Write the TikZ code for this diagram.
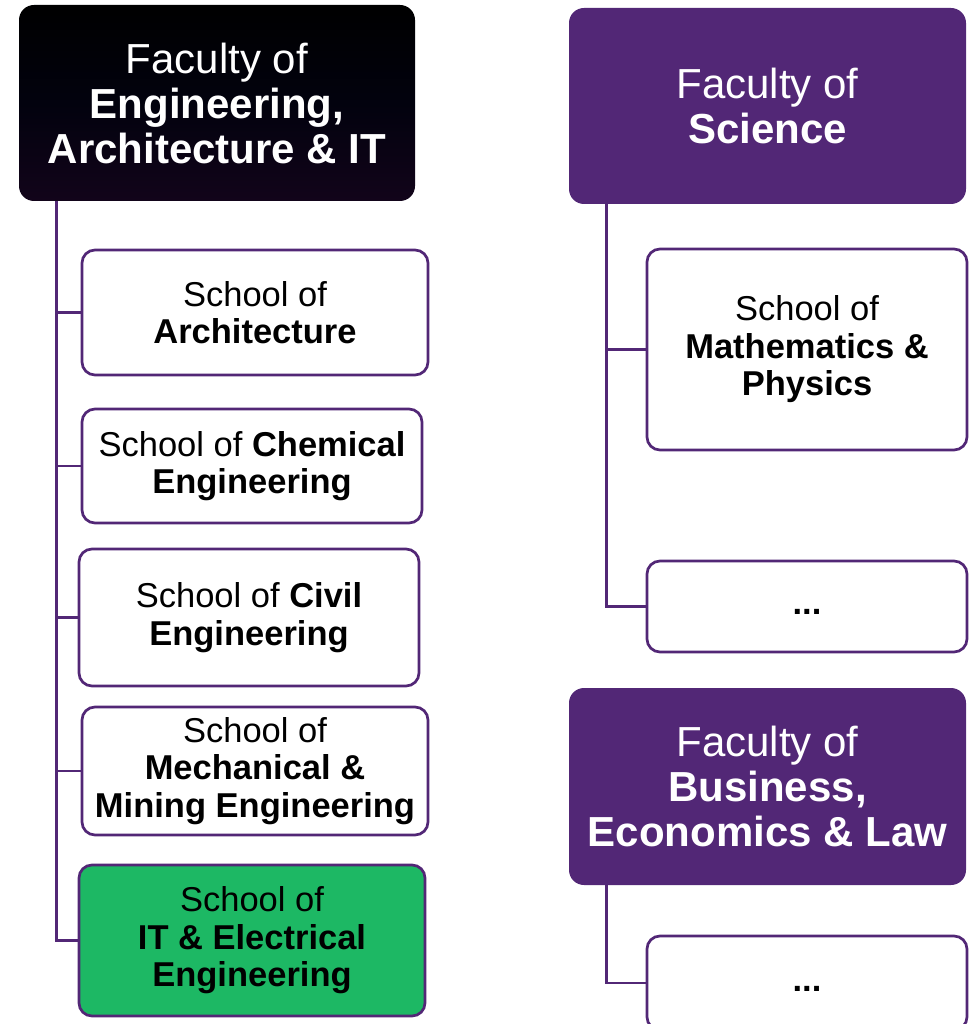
\documentclass[tikz,border=0pt]{standalone}
\usepackage{fontspec}
\setmainfont{Liberation Sans}
\definecolor{uqpurple}{RGB}{82,39,118}
\definecolor{uqgreen}{RGB}{29,184,100}
\definecolor{darktop}{RGB}{0,0,0}
\definecolor{darkbot}{RGB}{18,4,26}
\tikzset{
  faculty/.style={rectangle, rounded corners=15pt, inner sep=0pt, text=white, align=center,
    font=\fontsize{42}{45}\selectfont},
  school/.style={rectangle, rounded corners=13pt, draw=uqpurple, line width=2.7pt, fill=white,
    inner sep=0pt, align=center, font=\fontsize{34.5}{37.5}\selectfont},
  conn/.style={draw=uqpurple, line width=2.7pt}
}
\begin{document}
\begin{tikzpicture}[x=1pt,y=-1pt]
\useasboundingbox (0,0) rectangle (969,1024);
% Faculty boxes
\node[faculty, top color=darktop, bottom color=darkbot, middle color={rgb,255:red,2;green,2;blue,14},
  minimum width=396pt, minimum height=196pt] (fe) at (217,103)
  {Faculty of\\\textbf{Engineering,}\\\textbf{Architecture \& IT}};
\node[faculty, fill=uqpurple, minimum width=397pt, minimum height=196pt] (sci) at (767.5,106)
  {Faculty of\\\textbf{Science}};
\node[faculty, fill=uqpurple, minimum width=397pt, minimum height=197pt] (bus) at (767.5,786.5)
  {Faculty of\\\textbf{Business,}\\\textbf{Economics \& Law}};
% Schools (left)
\node[school, minimum width=346pt, minimum height=125pt] (s1) at (255,312.5)
  {School of\\\textbf{Architecture}};
\node[school, minimum width=340pt, minimum height=114pt] (s2) at (252,466)
  {School of \textbf{Chemical}\\\textbf{Engineering}};
\node[school, minimum width=340pt, minimum height=137pt] (s3) at (249,617.5)
  {School of \textbf{Civil}\\\textbf{Engineering}};
\node[school, minimum width=346pt, minimum height=128pt] (s4) at (255,771)
  {School of\\\textbf{Mechanical \&}\\\textbf{Mining Engineering}};
\node[school, fill=uqgreen, minimum width=346pt, minimum height=151pt] (s5) at (252,940.5)
  {School of\\\textbf{IT \& Electrical}\\\textbf{Engineering}};
% Schools (right)
\node[school, minimum width=320pt, minimum height=201pt] (m1) at (807,349.5)
  {School of\\\textbf{Mathematics \&}\\\textbf{Physics}};
\node[school, minimum width=320pt, minimum height=91pt] (m2) at (807,606.5)
  {\raisebox{-8pt}[0pt][0pt]{\textbf{...}}};
\node[school, minimum width=320pt, minimum height=94pt] (b1) at (807,983)
  {\raisebox{-8pt}[0pt][0pt]{\textbf{...}}};
% Connectors
\foreach \s in {s1,s2,s3,s4,s5}
  \draw[conn] ([xshift=38pt]fe.south west) |- (\s.west);
\foreach \s in {m1,m2}
  \draw[conn] ([xshift=38pt]sci.south west) |- (\s.west);
\draw[conn] ([xshift=38pt]bus.south west) |- (b1.west);
\end{tikzpicture}
\end{document}
